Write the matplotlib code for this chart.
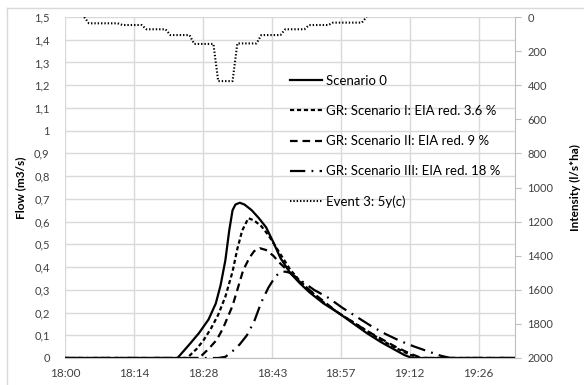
import matplotlib
matplotlib.use('Agg')
import matplotlib.pyplot as plt
from matplotlib.lines import Line2D

# time axis in minutes after 18:00
xtick_pos = [0, 14.4, 28.8, 43.2, 57.6, 72, 86.4]
xtick_labels = ['18:00', '18:14', '18:28', '18:43', '18:57', '19:12', '19:26']

# flow (m3/s)
t_s0 = [0, 23.5, 26, 28, 30, 31.5, 32.5, 33.5, 34.3, 35, 35.6, 36.5, 37.5, 39, 40.5, 42, 43.5, 45, 47, 49, 51, 54, 57, 60, 63, 66, 69, 71, 72.5, 94]
q_s0 = [0, 0, 0.06, 0.11, 0.17, 0.24, 0.32, 0.43, 0.56, 0.65, 0.675, 0.683, 0.675, 0.65, 0.615, 0.575, 0.51, 0.44, 0.375, 0.33, 0.29, 0.24, 0.2, 0.155, 0.11, 0.07, 0.035, 0.012, 0, 0]

t_s1 = [0, 25.5, 27.5, 29, 30.5, 32, 33.5, 35, 36, 37, 38.3, 39.5, 41, 42.5, 44, 45.5, 47, 49, 51, 54, 57, 60, 63, 66, 69, 72, 74, 94]
q_s1 = [0, 0, 0.04, 0.08, 0.13, 0.19, 0.27, 0.38, 0.48, 0.56, 0.615, 0.605, 0.58, 0.54, 0.49, 0.44, 0.39, 0.34, 0.3, 0.245, 0.2, 0.16, 0.12, 0.08, 0.045, 0.015, 0, 0]

t_s2 = [0, 28, 30, 31.7, 33, 34, 35, 36, 37.2, 38.5, 39.5, 40.7, 42, 43.5, 45, 46.5, 48.5, 51, 54, 57, 60, 63, 66, 69, 72, 74.5, 94]
q_s2 = [0, 0, 0.04, 0.08, 0.13, 0.18, 0.23, 0.3, 0.385, 0.44, 0.47, 0.483, 0.475, 0.45, 0.415, 0.385, 0.345, 0.3, 0.25, 0.2, 0.16, 0.12, 0.085, 0.05, 0.02, 0, 0]

t_s3 = [0, 32, 33.5, 35, 36.5, 38, 39.5, 41, 42.5, 44, 45, 46, 47, 48, 50, 52, 55, 58, 61, 64, 67, 70, 73, 76, 78.5, 80.5, 94]
q_s3 = [0, 0, 0.005, 0.03, 0.06, 0.1, 0.16, 0.245, 0.31, 0.36, 0.377, 0.38, 0.375, 0.36, 0.33, 0.3, 0.265, 0.22, 0.18, 0.14, 0.105, 0.075, 0.05, 0.028, 0.01, 0, 0]

# rain intensity (l/s*ha), event 3
t_rain = [4, 5, 11, 12, 16, 17, 21, 22, 26, 27, 31, 32, 35, 36, 40, 41, 45, 46, 50, 51, 55, 56, 62, 63]
i_rain = [0, 37, 37, 47, 47, 72, 72, 106, 106, 158, 158, 376, 376, 155, 155, 106, 106, 72, 72, 47, 47, 33, 33, 0]

plt.rcParams['font.family'] = ['Lato', 'DejaVu Sans']
plt.rcParams['lines.scale_dashes'] = False

fig = plt.figure(figsize=(5.84, 3.85), dpi=100)
ax = fig.add_axes([65/584, 27/385, 450/584, 341/385])
ax2 = ax.twinx()

lw = 1.6
ax.plot(t_s0, q_s0, color='black', lw=lw, label='Scenario 0')
ax.plot(t_s1, q_s1, color='black', lw=lw, dashes=(3, 2), label='GR: Scenario I: EIA red. 3.6 %')
ax.plot(t_s2, q_s2, color='black', lw=lw, dashes=(5.5, 3.5), label='GR: Scenario II: EIA red. 9 %')
ax.plot(t_s3, q_s3, color='black', lw=lw, dashes=(11, 4.5, 1.3, 4.5), label='GR: Scenario III: EIA red. 18 %')
ax2.plot(t_rain, i_rain, color='black', lw=1.5, dashes=(1, 1.4), label='Event 3: 5y(c)')

ax.set_xlim(0, 94)
ax.set_ylim(0, 1.5)
ax.set_yticks([i / 10 for i in range(16)])
ax.set_yticklabels([('%.1f' % (i / 10)).replace('.', ',').replace(',0', '') for i in range(16)])
ax.set_xticks(xtick_pos)
ax.set_xticklabels(xtick_labels)
ax.grid(True, color='#d9d9d9', lw=1)
ax.set_axisbelow(True)
ax.tick_params(axis='both', length=0, labelsize=8, colors='#404040')
ax.tick_params(axis='x', labelsize=8.5, pad=7)
ax.tick_params(axis='y', pad=11)
for s in ax.spines.values():
    s.set_visible(False)
ax.spines['bottom'].set_visible(True)
ax.spines['bottom'].set_color('#bfbfbf')

ax2.set_ylim(2000, 0)
ax2.set_yticks(range(0, 2001, 200))
ax2.tick_params(axis='y', length=4, labelsize=8, colors='#404040', pad=5)
ax2.tick_params(axis='y', color='#bfbfbf')
for s in ax2.spines.values():
    s.set_visible(False)
ax2.spines['right'].set_visible(True)
ax2.spines['right'].set_color('#bfbfbf')

ax.set_ylabel('Flow (m3/s)', fontsize=8.5, fontweight='bold', labelpad=6)
ax2.set_ylabel('Intensity (l/s*ha)', fontsize=8.5, fontweight='bold', labelpad=12)

h1, l1 = ax.get_legend_handles_labels()
h2, l2 = ax2.get_legend_handles_labels()
ax2.legend(h1 + h2, l1 + l2, loc='upper left', bbox_to_anchor=(290/584, 1 - 75/385),
           bbox_transform=fig.transFigure, frameon=False, fontsize=9.5,
           handlelength=2.4, handletextpad=0.3, labelspacing=1.37, borderpad=0, borderaxespad=0)

# chart frame, only top and left edges fall inside the image
fig.add_artist(Line2D([7/584, 7/584], [0, 1 - 8/385], transform=fig.transFigure, color='#d9d9d9', lw=1))
fig.add_artist(Line2D([7/584, 1], [1 - 8/385, 1 - 8/385], transform=fig.transFigure, color='#d9d9d9', lw=1))

fig.savefig('out.png', dpi=100)
